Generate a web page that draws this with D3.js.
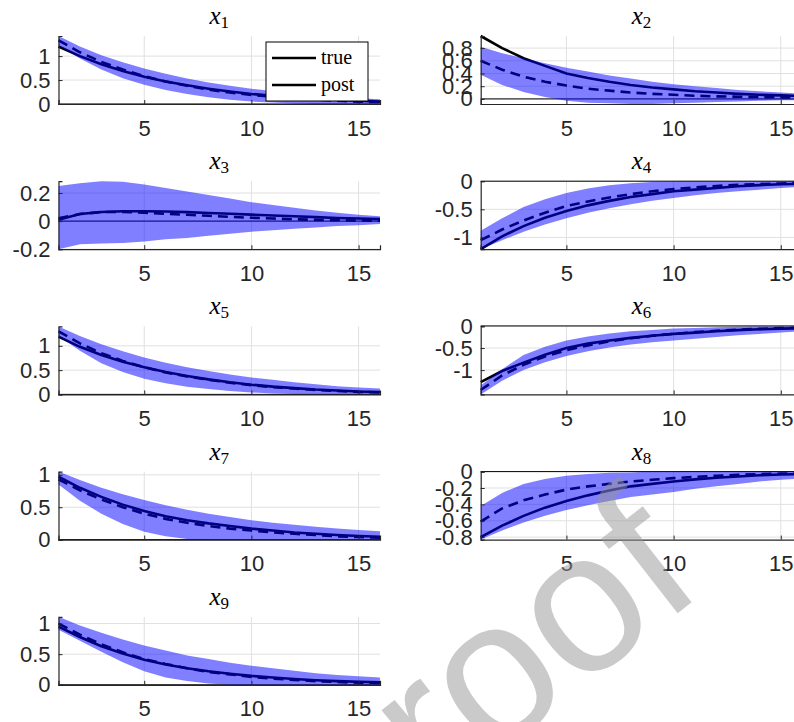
<!DOCTYPE html>
<html>
<head>
<meta charset="utf-8">
<script src="https://cdn.jsdelivr.net/npm/d3@7"></script>
<style>
  html, body { margin: 0; padding: 0; background: #fff; }
  svg { display: block; }
</style>
</head>
<body>
<svg id="fig" width="794" height="722"></svg>
<script>
// Forecast horizon (steps) shared by every panel
const horizon = [1, 2, 3, 4, 5, 6, 7, 8, 9, 10, 11, 12, 13, 14, 15, 16];
const panelNames = ["1", "2", "3", "4", "5", "6", "7", "8", "9"];
const xTicks = [5, 10, 15];
const yTicks = [
  [0, 0.5, 1],
  [0, 0.2, 0.4, 0.6, 0.8],
  [-0.2, 0, 0.2],
  [-1, -0.5, 0],
  [0, 0.5, 1],
  [-1, -0.5, 0],
  [0, 0.5, 1],
  [-0.8, -0.6, -0.4, -0.2, 0],
  [0, 0.5, 1]
];
const legendLabels = ["true", "post"];

// True impulse responses
const truth = [
  [1.20, 1.00, 0.83, 0.69, 0.57, 0.47, 0.39, 0.32, 0.26, 0.21, 0.17, 0.14, 0.11, 0.09, 0.07, 0.05],
  [0.99, 0.80, 0.64, 0.52, 0.40, 0.33, 0.27, 0.22, 0.18, 0.15, 0.12, 0.10, 0.08, 0.065, 0.055, 0.045],
  [0.01, 0.05, 0.065, 0.07, 0.07, 0.068, 0.064, 0.058, 0.052, 0.046, 0.04, 0.034, 0.028, 0.022, 0.018, 0.014],
  [-1.21, -0.98, -0.80, -0.65, -0.53, -0.43, -0.35, -0.28, -0.23, -0.18, -0.15, -0.12, -0.09, -0.07, -0.055, -0.045],
  [1.19, 0.98, 0.81, 0.67, 0.56, 0.46, 0.38, 0.31, 0.25, 0.20, 0.16, 0.13, 0.10, 0.08, 0.06, 0.05],
  [-1.27, -1.02, -0.83, -0.65, -0.50, -0.40, -0.33, -0.27, -0.22, -0.18, -0.15, -0.12, -0.095, -0.075, -0.06, -0.05],
  [0.97, 0.80, 0.66, 0.54, 0.44, 0.36, 0.30, 0.25, 0.21, 0.17, 0.14, 0.11, 0.09, 0.07, 0.055, 0.045],
  [-0.80, -0.66, -0.54, -0.44, -0.36, -0.29, -0.23, -0.18, -0.15, -0.12, -0.095, -0.075, -0.06, -0.045, -0.035, -0.03],
  [0.95, 0.78, 0.63, 0.51, 0.41, 0.33, 0.27, 0.22, 0.18, 0.145, 0.12, 0.095, 0.075, 0.06, 0.05, 0.04]
];

// Posterior mean responses
const postMean = [
  [1.33, 1.08, 0.88, 0.72, 0.58, 0.47, 0.38, 0.30, 0.24, 0.19, 0.15, 0.12, 0.09, 0.07, 0.05, 0.04],
  [0.60, 0.46, 0.35, 0.27, 0.21, 0.16, 0.13, 0.10, 0.08, 0.065, 0.05, 0.04, 0.035, 0.03, 0.025, 0.02],
  [0.02, 0.05, 0.065, 0.065, 0.06, 0.052, 0.045, 0.038, 0.03, 0.024, 0.018, 0.013, 0.009, 0.006, 0.004, 0.003],
  [-1.05, -0.86, -0.70, -0.56, -0.44, -0.36, -0.29, -0.23, -0.18, -0.14, -0.11, -0.085, -0.065, -0.05, -0.04, -0.03],
  [1.30, 1.05, 0.85, 0.69, 0.56, 0.45, 0.37, 0.30, 0.24, 0.19, 0.15, 0.12, 0.09, 0.07, 0.05, 0.04],
  [-1.45, -1.12, -0.88, -0.69, -0.55, -0.44, -0.35, -0.28, -0.22, -0.18, -0.14, -0.11, -0.085, -0.065, -0.05, -0.04],
  [0.93, 0.76, 0.62, 0.50, 0.40, 0.32, 0.26, 0.21, 0.17, 0.14, 0.11, 0.09, 0.07, 0.05, 0.04, 0.03],
  [-0.61, -0.45, -0.35, -0.28, -0.22, -0.18, -0.15, -0.12, -0.10, -0.08, -0.065, -0.05, -0.04, -0.03, -0.025, -0.02],
  [1.00, 0.82, 0.66, 0.53, 0.42, 0.34, 0.27, 0.21, 0.17, 0.13, 0.10, 0.08, 0.06, 0.045, 0.035, 0.03]
];

// Credible band, lower edge
const bandLow = [
  [1.22, 0.95, 0.72, 0.54, 0.40, 0.29, 0.21, 0.14, 0.09, 0.05, 0.03, 0.01, 0.00, 0.00, 0.00, 0.00],
  [0.38, 0.22, 0.11, 0.03, -0.03, -0.06, -0.07, -0.08, -0.08, -0.07, -0.06, -0.05, -0.04, -0.03, -0.02, -0.02],
  [-0.20, -0.165, -0.16, -0.155, -0.145, -0.13, -0.12, -0.105, -0.09, -0.075, -0.065, -0.055, -0.045, -0.035, -0.03, -0.02],
  [-1.21, -1.05, -0.90, -0.77, -0.66, -0.56, -0.48, -0.41, -0.35, -0.30, -0.25, -0.21, -0.18, -0.15, -0.12, -0.10],
  [1.20, 0.90, 0.64, 0.46, 0.32, 0.23, 0.16, 0.11, 0.07, 0.04, 0.02, 0.01, 0.00, 0.00, 0.00, 0.00],
  [-1.55, -1.24, -1.00, -0.82, -0.68, -0.57, -0.49, -0.42, -0.37, -0.33, -0.29, -0.25, -0.21, -0.18, -0.15, -0.12],
  [0.85, 0.60, 0.40, 0.24, 0.12, 0.05, 0.01, 0.00, 0.00, 0.00, 0.00, 0.00, 0.00, 0.00, 0.00, 0.00],
  [-0.83, -0.72, -0.62, -0.54, -0.47, -0.41, -0.36, -0.31, -0.28, -0.25, -0.21, -0.18, -0.15, -0.12, -0.10, -0.085],
  [0.90, 0.72, 0.54, 0.37, 0.22, 0.12, 0.06, 0.02, 0.00, 0.00, 0.00, 0.00, 0.00, 0.00, 0.00, 0.00]
];

// Credible band, upper edge
const bandHigh = [
  [1.42, 1.20, 1.02, 0.87, 0.74, 0.63, 0.53, 0.45, 0.38, 0.32, 0.27, 0.22, 0.18, 0.15, 0.12, 0.10],
  [0.82, 0.72, 0.64, 0.56, 0.49, 0.43, 0.37, 0.32, 0.27, 0.23, 0.20, 0.17, 0.14, 0.12, 0.10, 0.08],
  [0.25, 0.27, 0.284, 0.28, 0.26, 0.235, 0.21, 0.185, 0.16, 0.135, 0.115, 0.095, 0.075, 0.06, 0.045, 0.035],
  [-0.88, -0.66, -0.46, -0.32, -0.21, -0.13, -0.07, -0.035, -0.015, -0.005, 0.00, 0.00, 0.00, 0.00, 0.00, 0.00],
  [1.40, 1.20, 1.03, 0.89, 0.76, 0.65, 0.56, 0.48, 0.41, 0.35, 0.30, 0.25, 0.21, 0.17, 0.14, 0.12],
  [-1.35, -0.98, -0.66, -0.47, -0.33, -0.24, -0.17, -0.12, -0.09, -0.06, -0.045, -0.03, -0.02, -0.015, -0.01, -0.01],
  [1.05, 0.92, 0.80, 0.70, 0.61, 0.53, 0.46, 0.40, 0.35, 0.30, 0.26, 0.23, 0.20, 0.17, 0.15, 0.13],
  [-0.42, -0.26, -0.15, -0.09, -0.05, -0.03, -0.015, -0.01, 0.00, 0.00, 0.00, 0.00, 0.00, 0.00, 0.00, 0.00],
  [1.11, 0.97, 0.85, 0.74, 0.64, 0.56, 0.48, 0.42, 0.36, 0.31, 0.27, 0.23, 0.19, 0.16, 0.14, 0.12]
];

// ---- layout ----
const colLeft = [58.5, 480.7];
const axW = 321.5;
const rowTop0 = 36, rowPitch = 145.2, axH = 68;
const tickFont = "'Liberation Sans', Arial, Helvetica, sans-serif";
const serifFont = "'Liberation Serif', 'Times New Roman', serif";
const axisColor = "#262626";
const gridColor = "#e0e0e0";

const svg = d3.select("#fig");

panelNames.forEach((name, i) => {
  const col = i % 2, row = Math.floor(i / 2);
  const left = colLeft[col], top = rowTop0 + row * rowPitch;

  const rows = horizon.map((t, k) => ({
    t, tr: truth[i][k], pm: postMean[i][k], lo: bandLow[i][k], hi: bandHigh[i][k]
  }));
  const ext = d3.extent(rows.flatMap(d => [d.tr, d.pm, d.lo, d.hi]));

  const x = d3.scaleLinear().domain(d3.extent(horizon)).range([0, axW]);
  const y = d3.scaleLinear().domain(ext).range([axH, 0]);

  const g = svg.append("g").attr("transform", `translate(${left},${top})`);

  // grid
  g.append("g").selectAll("line.gx").data(xTicks).join("line")
    .attr("x1", d => x(d)).attr("x2", d => x(d)).attr("y1", 0).attr("y2", axH)
    .attr("stroke", gridColor).attr("stroke-width", 1);
  g.append("g").selectAll("line.gy").data(yTicks[i]).join("line")
    .attr("x1", 0).attr("x2", axW).attr("y1", d => y(d)).attr("y2", d => y(d))
    .attr("stroke", gridColor).attr("stroke-width", 1);

  // zero reference line
  g.append("line")
    .attr("x1", 0).attr("x2", axW).attr("y1", y(0)).attr("y2", y(0))
    .attr("stroke", "#000").attr("stroke-width", 1);

  // true and posterior mean paths
  const lineTrue = d3.line().x(d => x(d.t)).y(d => y(d.tr));
  const linePost = d3.line().x(d => x(d.t)).y(d => y(d.pm));
  g.append("path").datum(rows).attr("d", lineTrue)
    .attr("fill", "none").attr("stroke", "#000").attr("stroke-width", 2.6);
  g.append("path").datum(rows).attr("d", linePost)
    .attr("fill", "none").attr("stroke", "#000").attr("stroke-width", 2.6)
    .attr("stroke-dasharray", "10,6");

  // translucent credible band over the lines
  const area = d3.area().x(d => x(d.t)).y0(d => y(d.lo)).y1(d => y(d.hi));
  g.append("path").datum(rows).attr("d", area)
    .attr("fill", "#0000ff").attr("fill-opacity", 0.5);

  // axes
  const xAxis = d3.axisBottom(x).tickValues(xTicks).tickSize(-4).tickPadding(16)
    .tickFormat(d3.format("d"));
  const gx = g.append("g").attr("transform", `translate(0,${axH})`).call(xAxis);
  const yAxis = d3.axisLeft(y).tickValues(yTicks[i]).tickSize(-4).tickPadding(8)
    .tickFormat(d => d === 0 ? "0" : d3.format("")(d).replace("−", "-"));
  const gy = g.append("g").call(yAxis);
  [gx, gy].forEach(a => {
    a.select(".domain").attr("stroke", axisColor).attr("stroke-width", 1.2);
    a.selectAll(".tick line").attr("stroke", axisColor);
    a.selectAll(".tick text").attr("fill", axisColor)
      .style("font-family", tickFont).style("font-size", "22px");
  });
  gx.selectAll(".tick text").attr("dy", "0.71em");

  // panel title x_k
  const title = g.append("text")
    .attr("x", axW / 2).attr("y", -12)
    .attr("text-anchor", "middle")
    .style("font-family", serifFont).attr("fill", "#000");
  title.append("tspan").style("font-style", "italic").style("font-size", "25px").text("x");
  title.append("tspan").attr("dy", 4).style("font-size", "17px").text(name);

  // legend on the first panel
  if (i === 0) {
    const lg = g.append("g").attr("transform", `translate(${266 - left},${42 - top})`);
    lg.append("rect").attr("width", 102).attr("height", 59)
      .attr("fill", "#fff").attr("stroke", "#000").attr("stroke-width", 1);
    legendLabels.forEach((lab, k) => {
      const yy = 16 + k * 27;
      lg.append("line").attr("x1", 6).attr("x2", 50).attr("y1", yy).attr("y2", yy)
        .attr("stroke", "#000").attr("stroke-width", 2.6);
      lg.append("text").attr("x", 55).attr("y", yy).attr("dy", "0.32em")
        .style("font-family", serifFont).style("font-size", "20px").attr("fill", "#000")
        .text(lab);
    });
  }
});

// watermark
svg.append("text")
  .attr("transform", "translate(528,730) rotate(-38)")
  .attr("text-anchor", "middle")
  .style("font-family", "'Liberation Sans', Arial, sans-serif")
  .style("font-size", "200px")
  .attr("fill", "#969696").attr("fill-opacity", 0.5)
  .text("proof");
</script>
</body>
</html>
